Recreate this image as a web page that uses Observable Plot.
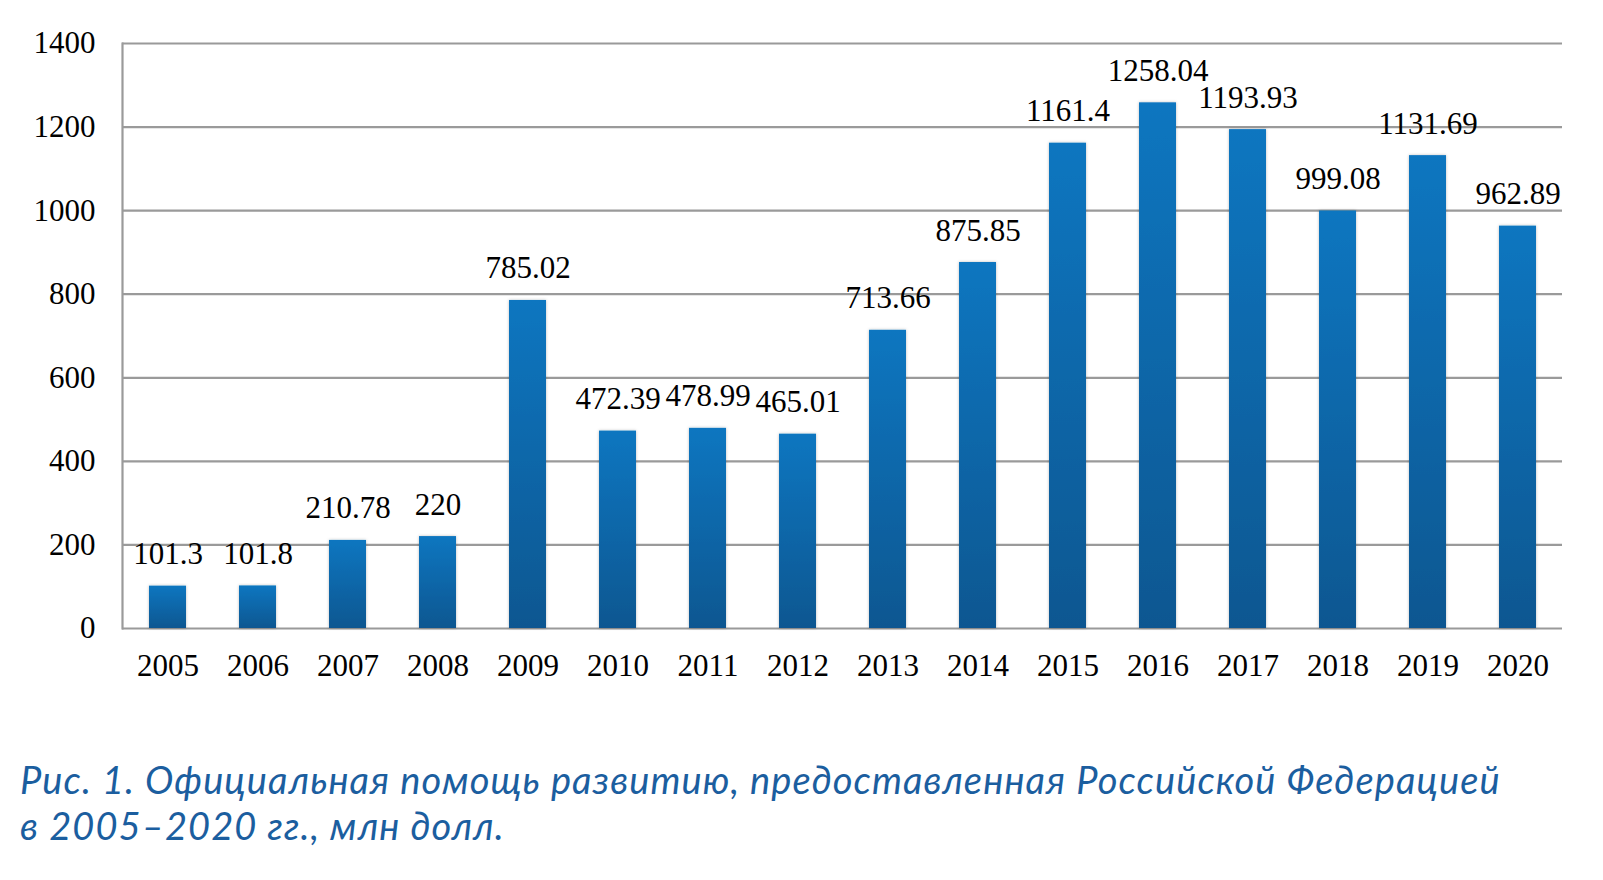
<!DOCTYPE html>
<html>
<head>
<meta charset="utf-8">
<script src="https://cdn.jsdelivr.net/npm/d3@7"></script>
<script src="https://cdn.jsdelivr.net/npm/@observablehq/plot@0.6"></script>
<style>
  html, body { margin: 0; padding: 0; background: #fff; }
  #wrap { position: relative; width: 1603px; height: 880px; }
  .cap {
    position: absolute; left: 20px;
    font-family: Lato, "Open Sans", sans-serif;
    font-style: italic; font-size: 38px; line-height: 44px; letter-spacing: 1.1px;
    color: #1b5e9f; white-space: nowrap;
  }
  #cap1 { top: 757px; }
  #cap2 { top: 803px; }
</style>
</head>
<body>
<div id="wrap">
  <div id="chart"></div>
  <div class="cap" id="cap1">Рис. 1. Официальная помощь развитию, предоставленная Российской Федерацией</div>
  <div class="cap" id="cap2">в 2005–2020 гг., млн долл.</div>
</div>
<script>
const years = ["2005","2006","2007","2008","2009","2010","2011","2012","2013","2014","2015","2016","2017","2018","2019","2020"];
const values = [101.3, 101.8, 210.78, 220, 785.02, 472.39, 478.99, 465.01, 713.66, 875.85, 1161.4, 1258.04, 1193.93, 999.08, 1131.69, 962.89];
const labels = ["101.3","101.8","210.78","220","785.02","472.39","478.99","465.01","713.66","875.85","1161.4","1258.04","1193.93","999.08","1131.69","962.89"];
const yTicks = [0, 200, 400, 600, 800, 1000, 1200, 1400];

const data = years.map((y, i) => ({year: y, value: values[i], label: labels[i]}));

const chart = Plot.plot({
  width: 1603,
  height: 720,
  marginTop: 43,
  marginBottom: 92,
  marginLeft: 122,
  marginRight: 41,
  style: {fontFamily: "'Liberation Serif', 'Times New Roman', serif", fontSize: "31px", color: "#000", background: "#fff"},
  x: {domain: years, paddingInner: 0.59, paddingOuter: 0.295, label: null, tickSize: 0, tickPadding: 25},
  y: {domain: [0, 1400], ticks: yTicks, tickFormat: d => String(d), label: null, tickSize: 0, tickPadding: 27},
  marks: [
    Plot.gridY(yTicks, {stroke: "#9a9a9a", strokeOpacity: 1, strokeWidth: 2.2}),
    Plot.frame({anchor: "left", stroke: "#9a9a9a", strokeWidth: 2.2}),
    Plot.barY(data, {x: "year", y: "value", fill: "url(#barGrad)"}),
    Plot.text(data, {x: "year", y: "value", text: "label", lineAnchor: "bottom", dy: -22, fill: "#000", fontSize: 31})
  ]
});

const svg = d3.select(chart);
const defs = svg.insert("defs", ":first-child");
const g = defs.append("linearGradient").attr("id", "barGrad").attr("x1", 0).attr("y1", 0).attr("x2", 0).attr("y2", 1);
g.append("stop").attr("offset", "0%").attr("stop-color", "#0a76c0");
g.append("stop").attr("offset", "100%").attr("stop-color", "#0b5791");
const f = defs.append("filter").attr("id", "shadow").attr("x", "-20%").attr("y", "-5%").attr("width", "140%").attr("height", "110%");
f.append("feDropShadow").attr("dx", 0).attr("dy", 0).attr("stdDeviation", 1.5).attr("flood-color", "#000").attr("flood-opacity", 0.25);
svg.selectAll("rect").filter(function() { return this.getAttribute("fill") === "url(#barGrad)" || (this.parentNode && this.parentNode.getAttribute("fill") === "url(#barGrad)"); }).attr("filter", "url(#shadow)");

document.getElementById("chart").appendChild(chart);
</script>
</body>
</html>
